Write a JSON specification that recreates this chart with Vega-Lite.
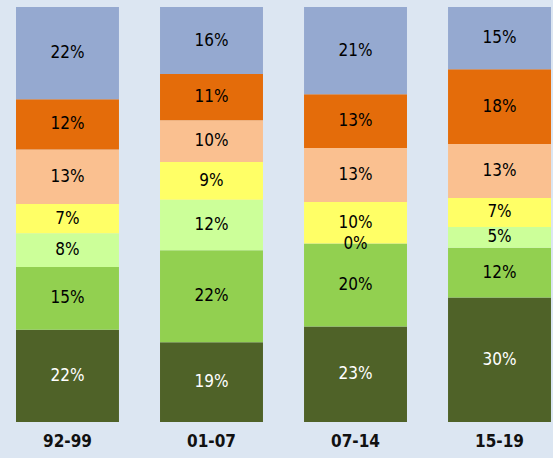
{
  "$schema": "https://vega.github.io/schema/vega-lite/v6.json",
  "width": 553,
  "height": 415,
  "autosize": {"type": "none"},
  "padding": {"top": 7, "left": 0, "right": 0, "bottom": 36},
  "background": "#dce6f2",
  "config": {"view": {"stroke": null}},
  "data": {
    "values": [
      {"period": "92-99", "k": 1, "value": 22},
      {"period": "92-99", "k": 2, "value": 15},
      {"period": "92-99", "k": 3, "value": 8},
      {"period": "92-99", "k": 4, "value": 7},
      {"period": "92-99", "k": 5, "value": 13},
      {"period": "92-99", "k": 6, "value": 12},
      {"period": "92-99", "k": 7, "value": 22},
      {"period": "01-07", "k": 1, "value": 19},
      {"period": "01-07", "k": 2, "value": 22},
      {"period": "01-07", "k": 3, "value": 12},
      {"period": "01-07", "k": 4, "value": 9},
      {"period": "01-07", "k": 5, "value": 10},
      {"period": "01-07", "k": 6, "value": 11},
      {"period": "01-07", "k": 7, "value": 16},
      {"period": "07-14", "k": 1, "value": 23},
      {"period": "07-14", "k": 2, "value": 20},
      {"period": "07-14", "k": 3, "value": 0},
      {"period": "07-14", "k": 4, "value": 10},
      {"period": "07-14", "k": 5, "value": 13},
      {"period": "07-14", "k": 6, "value": 13},
      {"period": "07-14", "k": 7, "value": 21},
      {"period": "15-19", "k": 1, "value": 30},
      {"period": "15-19", "k": 2, "value": 12},
      {"period": "15-19", "k": 3, "value": 5},
      {"period": "15-19", "k": 4, "value": 7},
      {"period": "15-19", "k": 5, "value": 13},
      {"period": "15-19", "k": 6, "value": 18},
      {"period": "15-19", "k": 7, "value": 15}
    ]
  },
  "transform": [
    {"stack": "value", "groupby": ["period"], "sort": [{"field": "k", "order": "ascending"}], "offset": "normalize", "as": ["y0", "y1"]},
    {"calculate": "(datum.y0 + datum.y1) / 2", "as": "mid"},
    {"calculate": "datum.value + '%'", "as": "label"}
  ],
  "encoding": {
    "x": {
      "field": "period",
      "type": "nominal",
      "sort": ["92-99", "01-07", "07-14", "15-19"],
      "scale": {"paddingInner": 0.285, "paddingOuter": 0.0625, "align": 0.889},
      "axis": {
        "title": null,
        "labelAngle": 0,
        "domain": false,
        "ticks": false,
        "labelPadding": 11,
        "labelFont": "DejaVu Sans Condensed",
        "labelFontWeight": "bold",
        "labelFontSize": 17,
        "labelColor": "#111111"
      }
    }
  },
  "layer": [
    {
      "mark": {"type": "bar"},
      "encoding": {
        "y": {"field": "y0", "type": "quantitative", "scale": {"domain": [0, 1]}, "axis": null},
        "y2": {"field": "y1"},
        "color": {
          "field": "k",
          "type": "ordinal",
          "scale": {"domain": [1, 2, 3, 4, 5, 6, 7], "range": ["#4f6228", "#92d050", "#ccff99", "#ffff66", "#fac090", "#e46c0a", "#95a9d0"]},
          "legend": null
        }
      }
    },
    {
      "mark": {"type": "text", "font": "DejaVu Sans Condensed", "fontSize": 17, "baseline": "middle"},
      "encoding": {
        "y": {"field": "mid", "type": "quantitative"},
        "text": {"field": "label", "type": "nominal"},
        "color": {"condition": {"test": "datum.k == 1", "value": "#ffffff"}, "value": "#000000"}
      }
    }
  ]
}
